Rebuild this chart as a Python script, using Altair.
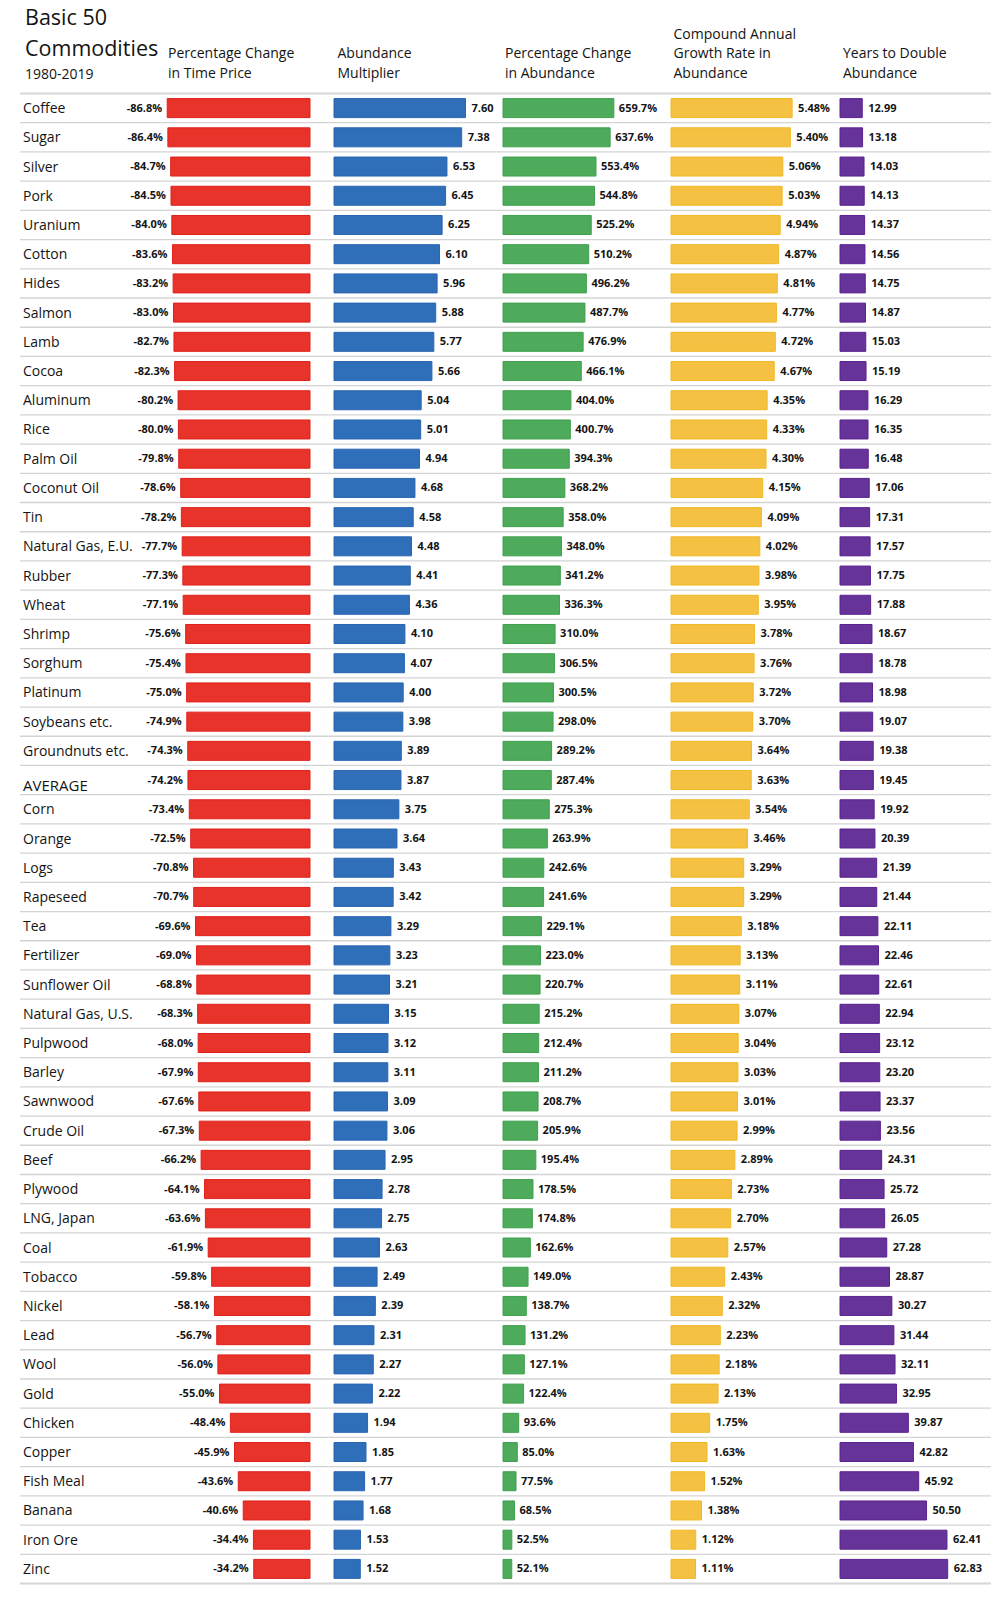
import altair as alt
import pandas as pd

names = ["Coffee", "Sugar", "Silver", "Pork", "Uranium", "Cotton", "Hides", "Salmon", "Lamb", "Cocoa",
         "Aluminum", "Rice", "Palm Oil", "Coconut Oil", "Tin", "Natural Gas, E.U.", "Rubber", "Wheat",
         "Shrimp", "Sorghum", "Platinum", "Soybeans etc.", "Groundnuts etc.", "AVERAGE", "Corn", "Orange",
         "Logs", "Rapeseed", "Tea", "Fertilizer", "Sunflower Oil", "Natural Gas, U.S.", "Pulpwood",
         "Barley", "Sawnwood", "Crude Oil", "Beef", "Plywood", "LNG, Japan", "Coal", "Tobacco", "Nickel",
         "Lead", "Wool", "Gold", "Chicken", "Copper", "Fish Meal", "Banana", "Iron Ore", "Zinc"]

time_price_change = [-86.8, -86.4, -84.7, -84.5, -84.0, -83.6, -83.2, -83.0, -82.7, -82.3,
                     -80.2, -80.0, -79.8, -78.6, -78.2, -77.7, -77.3, -77.1, -75.6, -75.4,
                     -75.0, -74.9, -74.3, -74.2, -73.4, -72.5, -70.8, -70.7, -69.6, -69.0,
                     -68.8, -68.3, -68.0, -67.9, -67.6, -67.3, -66.2, -64.1, -63.6, -61.9,
                     -59.8, -58.1, -56.7, -56.0, -55.0, -48.4, -45.9, -43.6, -40.6, -34.4, -34.2]

abundance_multiplier = [7.60, 7.38, 6.53, 6.45, 6.25, 6.10, 5.96, 5.88, 5.77, 5.66,
                        5.04, 5.01, 4.94, 4.68, 4.58, 4.48, 4.41, 4.36, 4.10, 4.07,
                        4.00, 3.98, 3.89, 3.87, 3.75, 3.64, 3.43, 3.42, 3.29, 3.23,
                        3.21, 3.15, 3.12, 3.11, 3.09, 3.06, 2.95, 2.78, 2.75, 2.63,
                        2.49, 2.39, 2.31, 2.27, 2.22, 1.94, 1.85, 1.77, 1.68, 1.53, 1.52]

abundance_change = [659.7, 637.6, 553.4, 544.8, 525.2, 510.2, 496.2, 487.7, 476.9, 466.1,
                    404.0, 400.7, 394.3, 368.2, 358.0, 348.0, 341.2, 336.3, 310.0, 306.5,
                    300.5, 298.0, 289.2, 287.4, 275.3, 263.9, 242.6, 241.6, 229.1, 223.0,
                    220.7, 215.2, 212.4, 211.2, 208.7, 205.9, 195.4, 178.5, 174.8, 162.6,
                    149.0, 138.7, 131.2, 127.1, 122.4, 93.6, 85.0, 77.5, 68.5, 52.5, 52.1]

cagr = [5.48, 5.40, 5.06, 5.03, 4.94, 4.87, 4.81, 4.77, 4.72, 4.67,
        4.35, 4.33, 4.30, 4.15, 4.09, 4.02, 3.98, 3.95, 3.78, 3.76,
        3.72, 3.70, 3.64, 3.63, 3.54, 3.46, 3.29, 3.29, 3.18, 3.13,
        3.11, 3.07, 3.04, 3.03, 3.01, 2.99, 2.89, 2.73, 2.70, 2.57,
        2.43, 2.32, 2.23, 2.18, 2.13, 1.75, 1.63, 1.52, 1.38, 1.12, 1.11]

years_to_double = [12.99, 13.18, 14.03, 14.13, 14.37, 14.56, 14.75, 14.87, 15.03, 15.19,
                   16.29, 16.35, 16.48, 17.06, 17.31, 17.57, 17.75, 17.88, 18.67, 18.78,
                   18.98, 19.07, 19.38, 19.45, 19.92, 20.39, 21.39, 21.44, 22.11, 22.46,
                   22.61, 22.94, 23.12, 23.20, 23.37, 23.56, 24.31, 25.72, 26.05, 27.28,
                   28.87, 30.27, 31.44, 32.11, 32.95, 39.87, 42.82, 45.92, 50.50, 62.41, 62.83]

df = pd.DataFrame({
    "name": names,
    "tp": time_price_change,
    "mult": abundance_multiplier,
    "chg": abundance_change,
    "cagr": cagr,
    "ytd": years_to_double,
})

FONT = "Open Sans"
TXT = "#141414"
H = 1490
HEADER_OFFSET = 13
RULE_END = 982


def yenc(band=None):
    kw = {}
    if band is not None:
        kw["bandPosition"] = band
    return alt.Y("name:N", axis=None,
                 scale=alt.Scale(domain=names, paddingInner=0, paddingOuter=0), **kw)


def header(lines, dx):
    return alt.Title(lines, anchor="start", frame="group", font=FONT, fontSize=14,
                     fontWeight="normal", lineHeight=19.5, color=TXT, dx=dx,
                     offset=HEADER_OFFSET)


# ---- names panel (with row separators spanning the whole table)
base = alt.Chart(df)
inner_rules = base.transform_filter(alt.datum.name != names[0]).mark_rule(
    color="#d4d4d4", strokeWidth=1.3).encode(
    y=yenc(0), x=alt.value(11), x2=alt.value(RULE_END))
top_rule = base.transform_filter(alt.datum.name == names[0]).mark_rule(
    color="#d6d6d6", strokeWidth=2.2).encode(
    y=yenc(0), x=alt.value(11), x2=alt.value(RULE_END))
bottom_rule = base.transform_filter(alt.datum.name == names[-1]).mark_rule(
    color="#d6d6d6", strokeWidth=2.2).encode(
    y=yenc(1), x=alt.value(11), x2=alt.value(RULE_END))
name_text = base.transform_filter(alt.datum.name != "AVERAGE").mark_text(
    align="left", baseline="middle", font=FONT, fontSize=14, color=TXT, dy=1).encode(
    y=yenc(), x=alt.value(14), text="name:N")
avg_text = base.transform_filter(alt.datum.name == "AVERAGE").mark_text(
    align="left", baseline="middle", font=FONT, fontSize=15, color=TXT, dy=6).encode(
    y=yenc(), x=alt.value(14), text="name:N")

names_panel = alt.layer(inner_rules, top_rule, bottom_rule, name_text, avg_text).properties(
    width=128, height=H,
    title=alt.Title(["Basic 50", "Commodities"], subtitle="1980-2019", anchor="start",
                    frame="group",
                    font=FONT, fontSize=21.5, fontWeight="normal", lineHeight=31.6, color=TXT,
                    subtitleFont=FONT, subtitleFontSize=14, subtitleColor=TXT,
                    subtitlePadding=7, dx=16, offset=10.8))


def bar_panel(field, label_expr, fill, stroke, domain, width, title, label_dx, align):
    b = alt.Chart(df).transform_calculate(label=label_expr)
    xenc = alt.X(f"{field}:Q", axis=None, scale=alt.Scale(domain=domain, nice=False, zero=False))
    bars = b.mark_bar(height=19, color=fill, stroke=stroke, strokeWidth=1).encode(
        x=xenc, x2=alt.datum(0), y=yenc())
    labels = b.mark_text(align=align, baseline="middle", dx=label_dx, dy=0.5, font=FONT,
                         fontSize=11, fontWeight="bold", color=TXT).encode(
        x=xenc, y=yenc(), text="label:N")
    return alt.layer(bars, labels).properties(width=width, height=H, title=title)


red = bar_panel("tp", "'-' + format(-datum.tp, '.1f') + '%'", "#e8332a", "#e0201c",
                [-90.58, 0], 149, header(["Percentage Change", "in Time Price"], 7), -5, "right")
blue = bar_panel("mult", "format(datum.mult, '.2f')", "#2f6eb9", "#2a66b0",
                 [0, 8.382], 145, header(["Abundance", "Multiplier"], 3.5), 6, "left")
green = bar_panel("chg", "format(datum.chg, '.1f') + '%'", "#4dab5b", "#3fa04d",
                  [0, 857], 144, header(["Percentage Change", "in Abundance"], 2), 5, "left")
yellow = bar_panel("cagr", "format(datum.cagr, '.2f') + '%'", "#f5c142", "#f0b823",
                   [0, 6.561], 145,
                   header(["Compound Annual", "Growth Rate in", "Abundance"], 2.5), 6, "left")
purple = bar_panel("ytd", "format(datum.ytd, '.2f')", "#663399", "#5a2290",
                   [0, 84.6], 145, header(["Years to Double", "Abundance"], 3), 6, "left")

chart = alt.hconcat(names_panel, red, blue, green, yellow, purple, spacing=24).properties(
    bounds="flush",
    padding={"left": 0, "top": -1.5, "right": 0, "bottom": 0},
).configure_view(stroke="transparent")

chart.save("out.html", embed_options={"renderer": "svg", "actions": False})
